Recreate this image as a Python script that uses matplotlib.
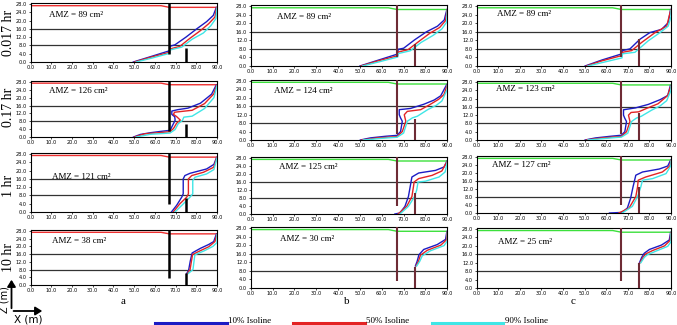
import matplotlib
matplotlib.use("Agg")
import matplotlib.pyplot as plt

# ----------------------- data -----------------------
times = ["0.017 hr", "0.17 hr", "1 hr", "10 hr"]
col_labels = ["a", "b", "c"]
amz_a = [89, 126, 121, 38]
amz_b = [89, 124, 125, 30]
amz_c = [89, 123, 127, 25]

# water table: level left of the wall / right of the wall
wt_left = [27.2, 27.4, 27.3, 27.3]
wt_right = [26.4, 26.6, 26.5, 26.5]
wall_x = 67.0
wall_bottom = [4.0, 3.0, 4.0, 3.5]
drain_x = 75.0
drain_top_a = [7.0, 6.7, 6.9, 6.0]
drain_top_b = [10.3, 10.0, 10.3, 10.0]
drain_top_c = [12.6, 12.9, 13.0, 12.0]

xticks = [0, 10, 20, 30, 40, 50, 60, 70, 80, 90]
zticks = [0, 4, 8, 12, 16, 20, 24, 28]

# isolines (x, z) for each panel, 10% / 50% / 90%
A1_BLUE = [(49.6, 0), (58, 2.6), (67.3, 5.5), (67.3, 7.6), (69.7, 8.3), (75, 12), (80.2, 16), (85, 19.5), (88.2, 22.5), (89.7, 26.4)]
A1_RED = [(50.2, 0), (58, 2.3), (67.2, 4.7), (67.3, 6.3), (72, 7.5), (77, 11.5), (81.8, 15), (86, 18.5), (89, 21.7), (89.8, 26.2)]
A1_CYAN = [(51, 0), (59, 2.0), (67.2, 4.2), (67.3, 5.8), (73, 7.2), (78, 11), (83.4, 14), (87, 17.5), (89.5, 21), (90, 26)]

A2_BLUE = [(49.7, 0), (53, 1.3), (58, 2.2), (64, 3.0), (67.4, 3.4), (68.6, 6), (69.8, 8.5), (69.6, 10.3), (68.2, 11.5), (68.2, 13.2), (71, 13.9), (76, 14.7), (82, 17.2), (87.4, 21.8), (89.6, 26.4)]
A2_RED = [(50.2, 0), (55, 1.6), (63, 2.3), (67.3, 2.7), (69, 4.3), (70.5, 7), (72.3, 8.6), (70.5, 10.4), (69, 11.5), (69.5, 12.6), (72, 12.9), (78, 13.6), (84, 17), (88.5, 22), (89.8, 26.2)]
A2_CYAN = [(51, 0), (58, 1.4), (67.3, 2.0), (69.8, 3.8), (71.3, 6.8), (73.3, 8.4), (74, 10.1), (78, 10.6), (84, 14.5), (88.5, 20), (90, 26)]

A3_BLUE = [(68, 0), (70.5, 3.2), (73, 7.2), (73.7, 8.8), (73.7, 12), (73.7, 16), (74.5, 17.6), (77, 18.7), (85, 20.8), (88.5, 23), (89.8, 26.4)]
A3_RED = [(68.9, 0), (72.1, 4), (75.4, 7.2), (76.2, 8.8), (76.2, 16), (77.8, 17.6), (83.5, 19.2), (88.4, 21.6), (89.9, 26.2)]
A3_CYAN = [(69.7, 0), (73, 3.2), (77, 7.2), (78.3, 8.8), (78.3, 15.2), (79.4, 16.8), (85, 18.4), (88.5, 20.5), (90, 26)]

A4_BLUE = [(75.4, 6.0), (76.3, 7.6), (77.1, 12.4), (78, 16.6), (82, 19), (86, 21), (88.4, 22.5), (89.7, 26.4)]
A4_RED = [(75.8, 6.0), (77, 8), (78.2, 15.8), (82, 17.8), (86, 19.8), (89, 22.5), (89.9, 26.2)]
A4_CYAN = [(76.2, 6.0), (78.4, 8), (79.3, 15.6), (84, 17.8), (88, 20), (90, 22), (90, 26)]

B1_BLUE = [(50, 0), (58, 2.6), (67.3, 5.6), (67.5, 7.8), (70, 8.3), (75, 12.2), (80.5, 16), (85.5, 18.6), (88.6, 21.5), (89.8, 26.4)]
B1_RED = [(50.5, 0), (58, 2.3), (67.3, 4.8), (67.5, 6.5), (72, 7.6), (77, 11.5), (82, 15.3), (86.5, 18), (89.2, 21.2), (89.9, 26.2)]
B1_CYAN = [(51.2, 0), (59, 2.0), (67.3, 4.2), (67.5, 5.8), (73, 7.1), (78, 11), (83.5, 14.3), (87.5, 17.3), (89.7, 20.5), (90, 26)]

B2_BLUE = [(50.2, 0), (54.8, 1.0), (62, 1.8), (67, 2.2), (68.6, 4), (69.4, 8.9), (68.6, 10.5), (68, 12), (68, 14.4), (73.2, 15), (79.3, 17), (84, 19), (87, 21), (89.7, 26.3)]
B2_RED = [(50.8, 0), (58, 1.0), (67, 1.6), (69.4, 4), (71, 8.9), (70.3, 12), (71.7, 13.6), (77.8, 14.4), (82, 16.8), (86, 19.3), (88.5, 21.6), (89.9, 26.1)]
B2_CYAN = [(51.5, 0), (60, 0.8), (67, 1.3), (70, 3.3), (71.7, 8.9), (74, 10.5), (76.3, 11.3), (81, 14.4), (85, 16.5), (87.5, 18.5), (90, 24), (90, 26)]

B3_BLUE = [(66, 0), (68.3, 0.5), (70.6, 3.8), (72.2, 8.7), (73, 13.6), (73.8, 18.5), (76.9, 20.5), (84.6, 21.8), (88.5, 23.5), (89.8, 26.4)]
B3_RED = [(67.5, 0), (71.4, 3.8), (73.8, 8.7), (74.5, 13.6), (74.8, 16), (76.9, 17.7), (83, 19.3), (87.5, 21.5), (89.9, 26.2)]
B3_CYAN = [(68.3, 0), (72.2, 3.8), (75, 8.7), (76, 12), (76.6, 16), (80, 16.4), (86.2, 18.5), (89, 21), (90, 26)]

B4_BLUE = [(75.4, 10.3), (76.2, 12.5), (77, 15.5), (79.2, 18), (85.4, 20.3), (89.2, 22.7), (89.8, 26.4)]
B4_RED = [(75.7, 10.3), (76.8, 12.5), (77.7, 15.3), (80.8, 17.6), (87, 20), (89.6, 22.5), (89.9, 26.2)]
B4_CYAN = [(76.0, 10.3), (77.4, 12.5), (78.5, 15), (82.3, 17.4), (88.5, 19.8), (90, 22), (90, 26)]

C1_BLUE = [(50.2, 0), (58, 2.8), (67.3, 5.7), (67.5, 7.2), (71, 8), (75.6, 12.5), (80.2, 15.6), (85.6, 17.1), (88.7, 20.2), (89.8, 26.4)]
C1_RED = [(50.8, 0), (58, 2.4), (67.3, 4.9), (67.5, 6.4), (71.8, 7.2), (76.4, 11), (82.6, 15.6), (88, 18.6), (89.9, 26.2)]
C1_CYAN = [(51.5, 0), (59, 1.8), (67.3, 3.8), (67.5, 5.7), (73.3, 6.4), (79.5, 11.8), (84.9, 15.6), (88.7, 18.6), (90, 23), (90, 26)]

C2_BLUE = [(50.2, 0), (55, 1.0), (62, 1.8), (67, 2.3), (68.6, 4), (69.4, 8.9), (68.6, 10.5), (68, 12), (68, 14.6), (73.5, 15.5), (79.5, 17.2), (85, 19.5), (88.5, 21.5), (89.7, 26.3)]
C2_RED = [(50.8, 0), (58, 1.0), (67, 1.7), (69.4, 4), (71, 8.9), (70.3, 12), (71.5, 13.3), (75, 13.6), (79, 15.4), (84, 17.5), (88.5, 21.5), (89.9, 26.1)]
C2_CYAN = [(51.5, 0), (60, 0.8), (67, 1.4), (70, 3.3), (71.7, 8.9), (74, 10.6), (76.3, 11.5), (81, 14.4), (85, 16.5), (88, 19), (90, 24), (90, 26)]

C3_BLUE = [(61.5, 0), (67.4, 0.3), (69.8, 2.5), (71.3, 7.4), (72.4, 13), (73.7, 18.9), (76.8, 20.5), (84.6, 22), (88.5, 23.5), (89.8, 26.4)]
C3_RED = [(65.9, 0), (70.6, 2.5), (73.7, 8.2), (74.5, 13), (74.8, 16.4), (78.3, 18), (86, 20.5), (89.5, 23.5), (89.9, 26.2)]
C3_CYAN = [(67.4, 0), (72.1, 3.3), (74.5, 8.2), (76, 13), (76.8, 16.4), (81.5, 17.2), (87.7, 19.7), (90, 23.8), (90, 26)]

C4_BLUE = [(75.4, 12.0), (76.4, 14.5), (77.6, 16.5), (80, 18.3), (85.6, 20.4), (89.2, 22.8), (89.8, 26.4)]
C4_RED = [(75.7, 12.0), (77, 14.5), (78.3, 16.2), (81.5, 17.8), (87, 20), (89.6, 22.6), (89.9, 26.2)]
C4_CYAN = [(76.0, 12.0), (77.6, 14.5), (79, 15.8), (83, 17.5), (88.5, 19.8), (90, 22), (90, 26)]

iso_a = [(A1_BLUE, A1_RED, A1_CYAN), (A2_BLUE, A2_RED, A2_CYAN),
         (A3_BLUE, A3_RED, A3_CYAN), (A4_BLUE, A4_RED, A4_CYAN)]
iso_b = [(B1_BLUE, B1_RED, B1_CYAN), (B2_BLUE, B2_RED, B2_CYAN),
         (B3_BLUE, B3_RED, B3_CYAN), (B4_BLUE, B4_RED, B4_CYAN)]
iso_c = [(C1_BLUE, C1_RED, C1_CYAN), (C2_BLUE, C2_RED, C2_CYAN),
         (C3_BLUE, C3_RED, C3_CYAN), (C4_BLUE, C4_RED, C4_CYAN)]

iso_names = ["10% Isoline", "50% Isoline", "90% Isoline"]
iso_colors = ["#1c1cc4", "#e32424", "#3fe6e6"]

# ----------------------- layout -----------------------
W, H = 677, 325
SERIF = ["Liberation Serif", "DejaVu Serif"]

# pixel boxes (left, top, right, bottom) for each column / row
col_x = [(30.5, 217), (250.7, 447.3), (476.7, 671)]
row_y = [
    [(3, 62), (81, 137), (153, 212), (230, 285)],
    [(5, 66), (80, 140), (157, 214), (227, 288)],
    [(5, 66), (81, 140), (156, 213), (228, 288)],
]
amz_pos = [
    [(49, 15), (49, 91), (52, 177), (52, 241)],
    [(277, 17), (274, 91), (279, 167), (280, 239)],
    [(497, 14), (496, 89), (492, 165), (498, 242)],
]

fig = plt.figure(figsize=(W / 100, H / 100), dpi=100)
fig.patch.set_facecolor("white")


def px_axes(l, t, r, b):
    return fig.add_axes([l / W, 1 - b / H, (r - l) / W, (b - t) / H])


columns = [
    (amz_a, iso_a, drain_top_a, "black", "#ee3030", 1.8),
    (amz_b, iso_b, drain_top_b, "#6e2b35", "#3ce03c", 1.5),
    (amz_c, iso_c, drain_top_c, "#6e2b35", "#3ce03c", 1.5),
]

for ci, (amz, iso, dtop, wall_col, wt_col, wall_lw) in enumerate(columns):
    l, r = col_x[ci]
    for ri in range(4):
        t, b = row_y[ci][ri]
        ax = px_axes(l, t, r, b)
        ax.set_xlim(0, 90)
        ax.set_ylim(0, 28.5)

        # reference levels
        for lev in (8, 16):
            ax.axhline(lev, color="#333333", lw=0.9, zorder=1)
        # water table
        ax.plot([0, 63, 67, 90], [wt_left[ri], wt_left[ri], wt_right[ri], wt_right[ri]],
                color=wt_col, lw=1.0, zorder=2)
        # isolines
        for pts, col in zip(iso[ri], iso_colors):
            xs = [p[0] for p in pts]
            zs = [p[1] for p in pts]
            ax.plot(xs, zs, color=col, lw=1.0, zorder=3)
        # wall and drain
        ax.plot([wall_x, wall_x], [wall_bottom[ri], 28.5], color=wall_col,
                lw=wall_lw, zorder=4, solid_capstyle="butt")
        ax.plot([drain_x, drain_x], [0, dtop[ri]], color=wall_col,
                lw=wall_lw, zorder=4, solid_capstyle="butt")

        ax.set_xticks(xticks)
        ax.set_xticklabels([f"{v:.1f}" for v in xticks])
        ax.set_yticks(zticks)
        ax.set_yticklabels([f"{v:.1f}" for v in zticks])
        ax.tick_params(labelsize=3.6, length=1.5, width=0.5, pad=1)
        for s in ax.spines.values():
            s.set_linewidth(0.8)
            s.set_color("black")

        ax.text(amz_pos[ci][ri][0], H - amz_pos[ci][ri][1],
                f"AMZ = {amz[ri]} cm²", transform=None, fontsize=6.5,
                family=SERIF, va="center", ha="left")

# row labels
row_center = [33, 107, 186, 258]
for lab, yc in zip(times, row_center):
    fig.text(9 / W, 1 - yc / H, lab, rotation=90, fontsize=10, family=SERIF,
             ha="center", va="center")

# column labels
for lab, xc in zip(col_labels, [123, 347, 573]):
    fig.text(xc / W, 1 - 302 / H, lab, fontsize=8, family=SERIF,
             ha="center", va="center")

# axis orientation arrows
fig.add_artist(matplotlib.patches.FancyArrowPatch(
    (11.5 / W, 1 - 311 / H), (11.5 / W, 1 - 277 / H), transform=fig.transFigure,
    arrowstyle="-|>,head_length=4,head_width=2.5", lw=1.3, color="black"))
fig.add_artist(matplotlib.patches.FancyArrowPatch(
    (10.8 / W, 1 - 311 / H), (45 / W, 1 - 311 / H), transform=fig.transFigure,
    arrowstyle="-|>,head_length=4,head_width=2.5", lw=1.3, color="black"))
fig.text(4.5 / W, 1 - 300 / H, "Z (m)", rotation=90, fontsize=7,
         family=["DejaVu Sans"], ha="center", va="center")
fig.text(28 / W, 1 - 319 / H, "X (m)", fontsize=7.5,
         family=["DejaVu Sans"], ha="center", va="center")

# legend
leg_x = [(155, 227), (293, 365), (432, 503)]
for (x0, x1), col, name in zip(leg_x, iso_colors, iso_names):
    fig.add_artist(plt.Line2D([x0 / W, x1 / W], [1 - 322.5 / H] * 2,
                              transform=fig.transFigure, color=col, lw=2.2))
    fig.text((x1 + 1.5) / W, 1 - 321 / H, name, fontsize=6.5, family=SERIF,
             ha="left", va="center")

fig.savefig("out.png", dpi=100)
